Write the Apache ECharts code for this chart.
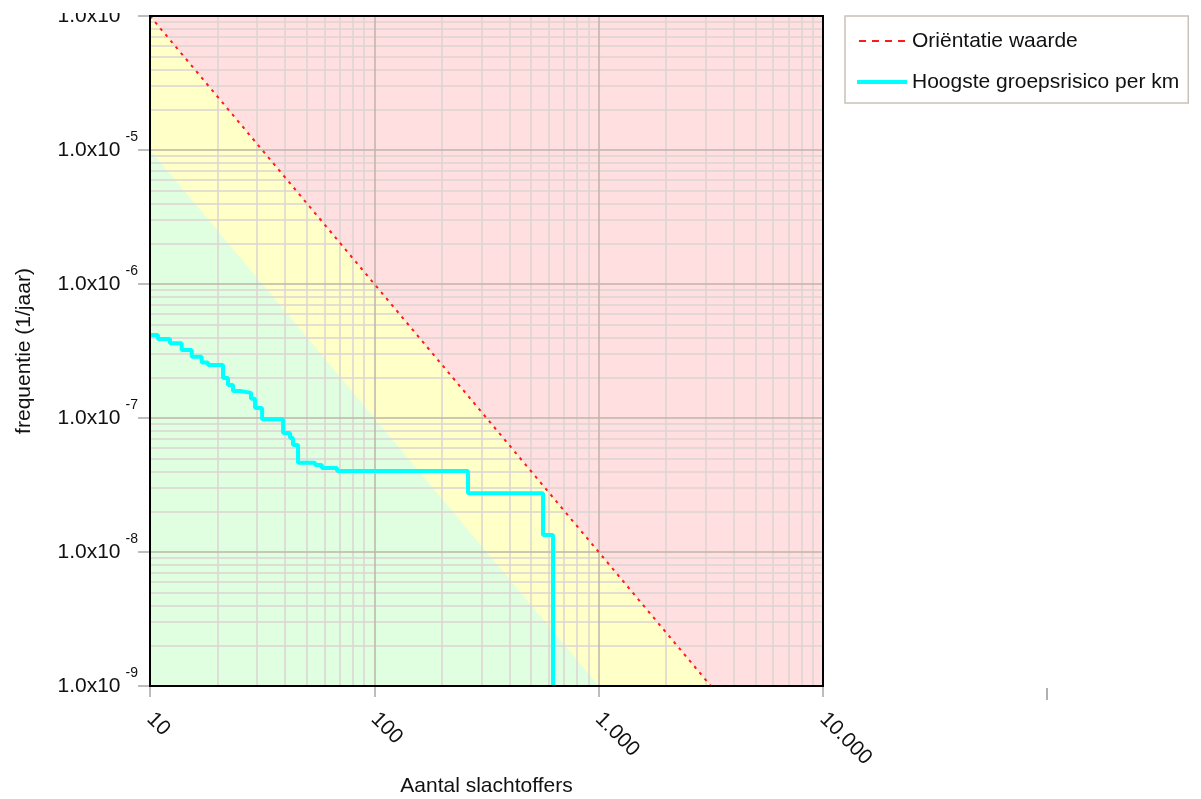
<!DOCTYPE html>
<html>
<head>
<meta charset="utf-8">
<script src="https://cdn.jsdelivr.net/npm/echarts@6/dist/echarts.min.js"></script>
<style>
html,body{margin:0;padding:0;background:#fff;}
#chart{width:1201px;height:799px;}
</style>
</head>
<body>
<div id="chart"></div>
<script>
// ---- data ----
const xTickValues = [10, 100, 1000, 10000];
const xTickLabels = ['10', '100', '1.000', '10.000'];
const yTickValues = [1e-9, 1e-8, 1e-7, 1e-6, 1e-5, 1e-4];
const yTickExponents = ['-9', '-8', '-7', '-6', '-5', '-4'];
const minorMultipliers = [2, 3, 4, 5, 6, 7, 8, 9];

// Oriëntatie waarde line (N, F)
const oriN = [10, 3162.3];
const oriF = [1e-4, 1e-9];
// lower (green) zone boundary
const greenN = [10, 1000];
const greenF = [1e-5, 1e-9];
// whole-plot (red) zone
const redN = [10, 10000];
const redF = [1e-4, 1e-4];

// Hoogste groepsrisico per km: step breakpoints (N) and levels (F)
const stepN = [10, 10.85, 12.28, 13.84, 15.35, 17.0, 18.14, 21.16, 22.27, 23.44, 25.19, 28.2, 29.4, 31.6, 39.2, 42.1, 43.4, 45.7, 54.4, 58.4, 68.2, 261.6, 564.9, 626];
const stepF = [4.16e-7, 3.89e-7, 3.61e-7, 3.22e-7, 2.87e-7, 2.60e-7, 2.49e-7, 1.99e-7, 1.76e-7, 1.59e-7, 1.54e-7, 1.39e-7, 1.19e-7, 9.8e-8, 7.73e-8, 7.1e-8, 6.29e-8, 4.64e-8, 4.46e-8, 4.24e-8, 4.02e-8, 2.75e-8, 1.34e-8];
const stepEndF = 1e-9;

// ---- build ----
function pairs(xs, ys) { return xs.map((x, i) => [x, ys[i]]); }
const stepData = [];
for (let i = 0; i < stepF.length; i++) {
  stepData.push([stepN[i], stepF[i]]);
  stepData.push([stepN[i + 1], stepF[i]]);
}
stepData.push([stepN[stepN.length - 1], stepEndF]);

const xMin = xTickValues[0], xMax = xTickValues[xTickValues.length - 1];
const yMin = yTickValues[0], yMax = yTickValues[yTickValues.length - 1];
const majorColor = '#bfb4ab';
const minorColor = '#dcd5d3';
const gridLines = [];
function vLine(v, c) { gridLines.push([{ coord: [v, yMin], lineStyle: { color: c, width: 1.5, type: 'solid' } }, { coord: [v, yMax] }]); }
function hLine(v, c) { gridLines.push([{ coord: [xMin, v], lineStyle: { color: c, width: 1.5, type: 'solid' } }, { coord: [xMax, v] }]); }
for (let d = 0; d < xTickValues.length - 1; d++) minorMultipliers.forEach(m => vLine(xTickValues[d] * m, minorColor));
for (let d = 0; d < yTickValues.length - 1; d++) minorMultipliers.forEach(m => hLine(yTickValues[d] * m, minorColor));
xTickValues.slice(1, -1).forEach(v => vLine(v, majorColor));
yTickValues.slice(1, -1).forEach(v => hLine(v, majorColor));

const FONT = 'Liberation Sans, Arial, sans-serif';
const chart = echarts.init(document.getElementById('chart'));

const zone = (name, data, color, z) => ({
  name: name, type: 'line', data: data, symbol: 'none', silent: true, z: z,
  lineStyle: { width: 0, opacity: 0 }, areaStyle: { color: color, opacity: 1, origin: 'start' },
  animation: false
});

const redDashIcon = 'path://M0,0h0.01v0.01h-0.01z M0,1h7v2h-7z M13,1h7v2h-7z M26,1h7v2h-7z M39,1h7v2h-7z M45.99,3.99h0.01v0.01h-0.01z';
const cyanIcon = 'path://M0,0h50v4h-50z';

chart.setOption({
  animation: false,
  backgroundColor: '#ffffff',
  grid: { left: 150, top: 16, width: 673, height: 670, containLabel: false, outerBoundsMode: 'none', show: true, backgroundColor: 'transparent', borderColor: '#000', borderWidth: 2, z: 10 },
  legend: {
    orient: 'vertical', left: 845, top: 16,
    data: [{ name: 'Oriëntatie waarde', icon: redDashIcon }, { name: 'Hoogste groepsrisico per km', icon: cyanIcon }],
    itemWidth: 50, itemHeight: 4, itemGap: 17,
    padding: [13, 9, 9, 12],
    borderColor: '#c9c1b9', borderWidth: 1.5, backgroundColor: '#fff',
    textStyle: { fontFamily: FONT, fontSize: 21, color: '#111', lineHeight: 24 },
    selectedMode: false
  },
  xAxis: {
    type: 'log', logBase: 10, min: xMin, max: xMax, z: 0,
    name: 'Aantal slachtoffers', nameLocation: 'middle', nameGap: 86,
    nameTextStyle: { fontFamily: FONT, fontSize: 21, color: '#111' },
    axisLine: { show: false },
    axisTick: { show: true, length: 11, lineStyle: { color: '#a8a8a8', width: 1.5 } },
    splitLine: { show: false },
    axisLabel: {
      rotate: -45, margin: 30, fontFamily: FONT, fontSize: 21, color: '#111',
      formatter: v => { const i = xTickValues.findIndex(t => Math.abs(Math.log10(t) - Math.log10(v)) < 1e-6); return i >= 0 ? xTickLabels[i] : ''; }
    }
  },
  yAxis: {
    type: 'log', logBase: 10, min: yMin, max: yMax, z: 0,
    name: 'frequentie (1/jaar)', nameLocation: 'middle', nameGap: 115,
    nameTextStyle: { fontFamily: FONT, fontSize: 21, color: '#111' },
    axisLine: { show: false },
    axisTick: { show: true, length: 12, lineStyle: { color: '#a8a8a8', width: 1.5 } },
    splitLine: { show: false },
    axisLabel: {
      margin: 12, color: '#111',
      formatter: v => { const i = yTickValues.findIndex(t => Math.abs(Math.log10(t) - Math.log10(v)) < 1e-6); return i >= 0 ? '{b|1.0x10}{s|' + yTickExponents[i] + '}' : ''; },
      rich: {
        b: { fontFamily: FONT, fontSize: 21, color: '#111', lineHeight: 40, verticalAlign: 'middle' },
        s: { fontFamily: FONT, fontSize: 14, color: '#111', lineHeight: 15, verticalAlign: 'top', padding: [0, 0, 0, 5] }
      }
    }
  },
  series: [
    zone('redZone', pairs(redN, redF), '#ffdfdf', 0),
    zone('yellowZone', pairs(oriN, oriF), '#ffffc8', 1),
    zone('greenZone', pairs(greenN, greenF), '#e0ffe0', 2),
    {
      name: 'gridlines', type: 'line', data: [[xMin, yMin]], symbol: 'none', silent: true, z: 3,
      lineStyle: { width: 0, opacity: 0 },
      markLine: { silent: true, symbol: ['none', 'none'], label: { show: false }, animation: false, data: gridLines }
    },
    {
      name: 'Oriëntatie waarde', type: 'line', data: pairs(oriN, oriF), symbol: 'none', z: 6,
      lineStyle: { color: '#ff1a1a', width: 2, type: [3, 5] }, itemStyle: { color: '#ff1a1a' }
    },
    {
      name: 'Hoogste groepsrisico per km', type: 'line', data: stepData, symbol: 'none', z: 5,
      lineStyle: { color: '#00ffff', width: 4 }, itemStyle: { color: '#00ffff' }
    }
  ],
  graphic: [
    { type: 'rect', shape: { x: 0, y: 0, width: 146, height: 13 }, style: { fill: '#fff' }, z: 100 },
    { type: 'line', shape: { x1: 1047, y1: 688, x2: 1047, y2: 700 }, style: { stroke: '#b0b0b0', lineWidth: 2 }, z: 100 }
  ]
});
</script>
</body>
</html>
